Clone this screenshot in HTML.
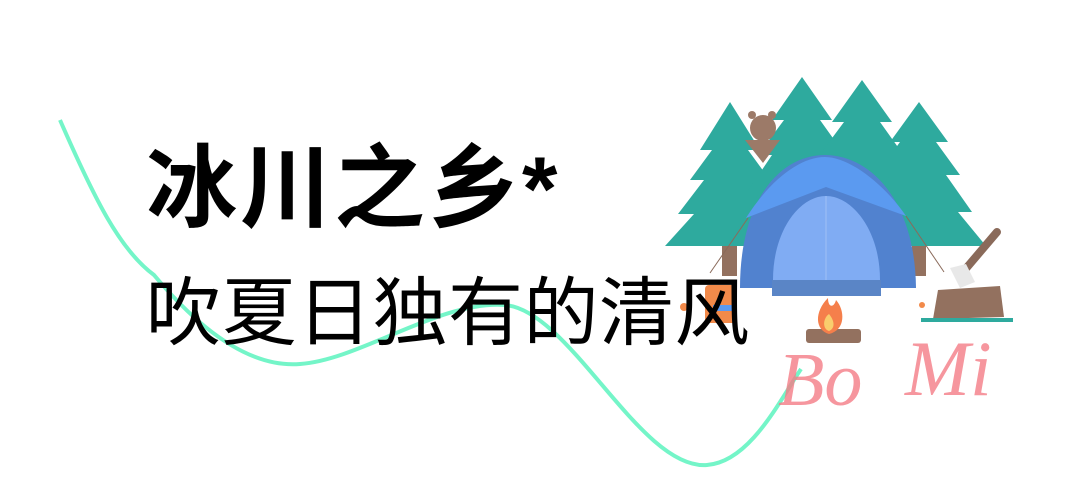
<!DOCTYPE html>
<html><head><meta charset="utf-8"><style>
html,body{margin:0;padding:0;background:#fff;}
.wrap{position:relative;width:1080px;height:500px;overflow:hidden;}
.t1{position:absolute;left:146px;top:140px;font:bold 91px/100px "Liberation Sans","Noto Sans CJK SC",sans-serif;color:#000;white-space:nowrap;letter-spacing:3px}
.t2{position:absolute;left:146px;top:268px;font:75px/90px "Liberation Sans","Noto Sans CJK SC",sans-serif;color:#000;white-space:nowrap;letter-spacing:0.5px}
svg{position:absolute;left:0;top:0}
</style></head><body><div class="wrap">
<svg width="1080" height="500" viewBox="0 0 1080 500">
<path d="M60,120 C95,200 120,250 154,275 C200,330 250,368 300,364 C360,360 440,300 505,305 C570,310 640,470 707,465 C750,462 780,400 801,369" fill="none" stroke="#74f5c8" stroke-width="4"/>
<g fill="#2eaa9e">
<path d="M730,102 L760,150 L748,150 L770,180 L756,180 L782,214 L766,214 L795,246 L665,246 L694,214 L678,214 L704,180 L690,180 L712,150 L700,150Z"/>
<path d="M802,77 L832,120 L820,120 L845,155 L830,155 L860,195 L845,195 L875,240 L730,240 L758,195 L745,195 L772,155 L758,155 L784,120 L772,120Z"/>
<path d="M862,80 L892,122 L880,122 L905,157 L890,157 L918,197 L904,197 L932,240 L790,240 L818,197 L805,197 L832,157 L818,157 L844,122 L832,122Z"/>
<path d="M919,102 L948,142 L936,142 L960,175 L946,175 L972,212 L958,212 L986,246 L852,246 L878,212 L864,212 L890,175 L876,175 L900,142 L890,142Z"/>
</g>
<rect x="722" y="246" width="15" height="30" fill="#93715f"/>
<rect x="912" y="246" width="14" height="30" fill="#93715f"/>
<circle cx="763" cy="128" r="13" fill="#9c7a68"/>
<circle cx="752" cy="115" r="4" fill="#9c7a68"/><circle cx="772" cy="115" r="4" fill="#9c7a68"/>
<path d="M745,140 L780,140 L763,163Z" fill="#9c7a68"/>
<path d="M740,288 C740,200 780,155 825,155 C870,155 915,200 916,288Z" fill="#5182cf"/>
<path d="M746,218 C770,180 800,157 825,157 C850,157 885,185 906,216 L826,187Z" fill="#5b9af0"/>
<path d="M773,280 C773,230 800,196 826,196 C852,196 880,230 880,280Z" fill="#80acf3"/>
<line x1="826" y1="196" x2="826" y2="280" stroke="#9fc0f6" stroke-width="1"/>
<rect x="772" y="280" width="109" height="16" fill="#5a85c6"/>
<line x1="748" y1="218" x2="710" y2="273" stroke="#8a6a5a" stroke-width="1"/>
<line x1="906" y1="216" x2="944" y2="272" stroke="#8a6a5a" stroke-width="1"/>
<rect x="705" y="285" width="32" height="38" rx="4" fill="#f28a4a"/>
<rect x="713" y="305" width="20" height="6" fill="#5b9af0"/>
<circle cx="684" cy="307" r="4" fill="#f28a4a"/>
<rect x="806" y="329" width="55" height="14" rx="3" fill="#93715f"/>
<path d="M829,334 C815,330 814,312 828,298 C828,308 834,308 836,300 C845,310 846,330 829,334Z" fill="#f57f4b"/>
<path d="M829,331 C822,329 823,318 829,314 C834,320 836,328 829,331Z" fill="#f9cd6d"/>
<line x1="997" y1="232" x2="963" y2="272" stroke="#8a6a5a" stroke-width="8" stroke-linecap="round"/>
<path d="M950,268 L966,264 L975,282 L960,288Z" fill="#e8e8e8"/>
<path d="M938,290 L1000,286 L1004,317 L933,319Z" fill="#93715f"/>
<rect x="921" y="318" width="92" height="4" fill="#2eaa9e"/>
<circle cx="922" cy="305" r="3" fill="#f28a4a"/>
<text x="778" y="405" font-family="Liberation Serif,serif" font-style="italic" font-size="76" fill="#f47c86" fill-opacity="0.8">Bo</text>
<text x="905" y="395" font-family="Liberation Serif,serif" font-style="italic" font-size="78" fill="#f47c86" fill-opacity="0.8">Mi</text>
</svg>
<div class="t1">冰川之乡*</div>
<div class="t2">吹夏日独有的清风</div>
</div></body></html>
